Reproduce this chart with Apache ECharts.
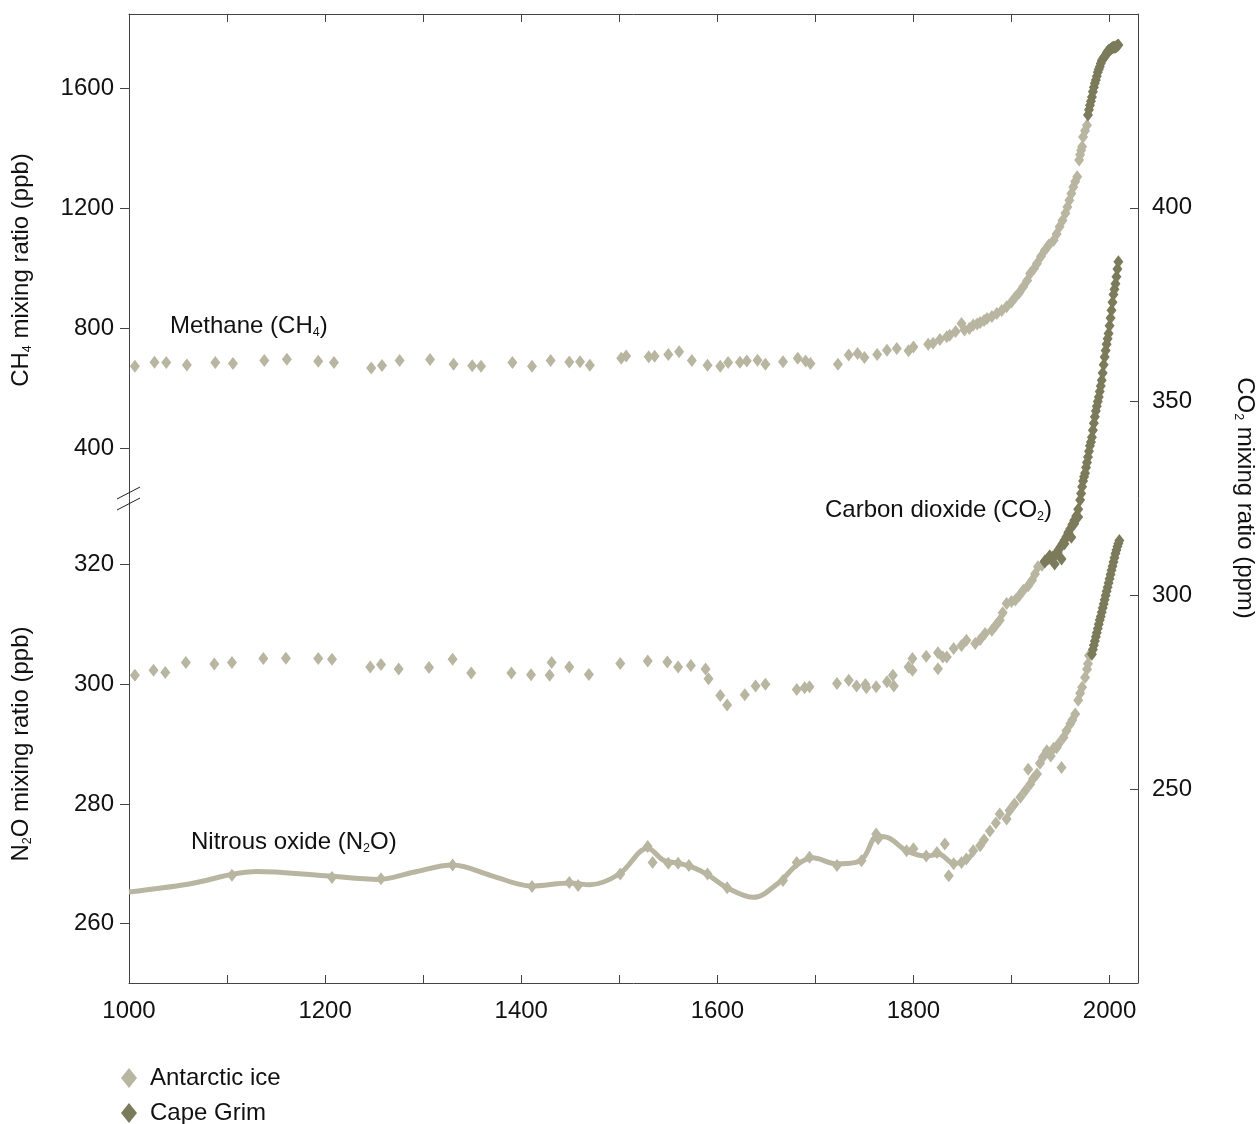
<!DOCTYPE html>
<html>
<head>
<meta charset="utf-8">
<script src="https://cdn.jsdelivr.net/npm/echarts@6/dist/echarts.min.js"></script>
<style>html,body{margin:0;padding:0;background:#fff;}#c{width:1260px;height:1124px;}</style>
</head>
<body>
<div id="c"></div>
<script>
// ---------- data (year, value) ----------
const xLabels = [1000, 1200, 1400, 1600, 1800, 2000];
const ch4Ticks = [400, 800, 1200, 1600];
const n2oTicks = [260, 280, 300, 320];
const co2Ticks = [250, 300, 350, 400];

const ch4Ice = [[1006,674],[1026,687],[1038,686],[1059,678],[1088,686],[1106,683],[1138,693],[1161,697],[1193,690],[1209,686],[1247,668],[1258,676],[1276,693],[1307,696],[1331,680],[1350,675],[1359,674],[1391,686],[1411,674],[1430,693],[1449,688],[1460,689],[1470,677],[1502,700],[1507,708],[1530,705],[1536,707],[1550,713],[1561,722],[1574,693],[1590,677],[1603,674],[1611,686],[1623,687],[1630,691],[1641,694],[1649,680],[1667,689],[1682,700],[1690,691],[1695,683],[1723,680],[1734,711],[1743,716],[1750,703],[1763,713],[1773,727],[1783,733],[1795,725],[1800,738],[1815,747],[1820,750],[1827,763],[1834,772],[1837,777],[1843,790],[1849,816],[1852,795],[1857,800],[1861,811],[1865,815],[1868,820],[1872,826],[1875,833],[1880,840],[1885,850],[1890,860],[1895,872],[1900,888],[1904,905],[1908,920],[1912,939],[1916,960],[1919,983],[1923,1000],[1926,1017],[1930,1040],[1934,1061],[1938,1078],[1943,1094],[1946,1115],[1949,1139],[1952,1160],[1955,1184],[1957,1205],[1959,1228],[1961,1250],[1963,1272],[1965,1290],[1967,1306],[1969,1362],[1970,1380],[1971,1395],[1972,1406],[1973,1439],[1975,1460],[1977,1478]];
const ch4Grim = [[1978,1512],[1979,1530],[1980,1545],[1981,1558],[1982,1572],[1983,1590],[1984,1605],[1985,1618],[1986,1629],[1987,1642],[1988,1655],[1989,1665],[1990,1673],[1991,1684],[1992,1693],[1993,1698],[1994,1703],[1995,1707],[1996,1712],[1997,1718],[1998,1724],[1999,1728],[2000,1729],[2001,1731],[2002,1735],[2003,1737],[2004,1738],[2005,1738],[2006,1739],[2007,1741],[2008,1744],[2009,1746]];

const co2Ice = [[1006,279.4],[1025,280.7],[1037,280.1],[1058,282.7],[1087,282.3],[1105,282.7],[1137,283.7],[1160,283.8],[1193,283.7],[1207,283.5],[1246,281.5],[1257,282.2],[1275,281.0],[1306,281.4],[1330,283.5],[1349,280.0],[1390,280.0],[1410,279.5],[1429,279.4],[1431,282.7],[1449,281.5],[1469,279.6],[1501,282.4],[1529,283.1],[1549,282.8],[1560,281.5],[1573,281.9],[1588,281.0],[1591,278.5],[1603,274.2],[1610,271.7],[1628,274.4],[1639,276.6],[1649,277.1],[1681,275.7],[1689,276.2],[1694,276.4],[1722,277.3],[1734,278.1],[1742,276.6],[1751,277.0],[1752,276.2],[1762,276.4],[1773,277.7],[1779,279.4],[1780,276.6],[1795,281.5],[1799,283.7],[1799,280.7],[1813,284.3],[1825,285.2],[1825,281.1],[1830,284.1],[1834,284.1],[1841,286.3],[1849,287.1],[1854,288.4],[1863,287.6],[1868,288.6],[1873,290.2],[1880,291.0],[1884,292.3],[1888,293.6],[1891,295.5],[1895,297.9],[1900,298.4],[1904,298.8],[1908,300.0],[1912,301.3],[1917,302.5],[1921,303.9],[1924,305.5],[1927,307.4],[1931,307.8]];
const co2Grim = [[1934,308.6],[1936,309.2],[1938,309.5],[1940,309.8],[1942,309.9],[1944,310.3],[1946,310.8],[1948,311.8],[1950,312.5],[1952,313.3],[1954,314.2],[1956,315.1],[1958,316.3],[1960,317.2],[1962,318.3],[1964,319.4],[1966,320.5],[1968,322.2],[1934,308.9],[1939,310.2],[1944,308.1],[1947,311.1],[1951,309.4],[1954,313.3],[1958,315.9],[1961,315.0],[1964,318.5],[1968,320.2],[1970,324.6],[1971,326.3],[1972,328.0],[1973,329.5],[1974,330.6],[1975,331.5],[1976,333.0],[1977,334.3],[1978,335.7],[1979,337.2],[1980,338.6],[1981,339.6],[1982,340.8],[1983,342.6],[1984,344.4],[1985,346.1],[1986,347.6],[1987,348.8],[1988,350.0],[1989,351.2],[1990,352.6],[1991,354.0],[1992,355.5],[1993,357.4],[1994,359.5],[1995,361.5],[1996,363.2],[1997,364.8],[1998,366.2],[1999,367.6],[2000,369.6],[2001,371.6],[2002,373.6],[2003,375.6],[2004,377.6],[2005,379.0],[2006,380.4],[2007,382.2],[2008,384.2],[2009,386.1]];

const n2oIce = [[1105,268.1],[1207,267.7],[1257,267.5],[1330,269.8],[1411,266.2],[1449,266.9],[1458,266.4],[1501,268.3],[1529,272.9],[1534,270.2],[1550,270.1],[1560,270.1],[1571,269.7],[1590,268.3],[1610,266.0],[1667,267.2],[1681,270.2],[1694,271.1],[1722,269.7],[1747,270.5],[1762,275.0],[1764,274.2],[1793,272.2],[1800,272.5],[1813,271.3],[1824,271.9],[1832,273.3],[1836,268.0],[1841,270.0],[1849,270.2],[1854,270.8],[1861,272.2],[1868,273.0],[1872,274.0],[1878,275.5],[1884,276.8],[1888,278.3],[1895,277.5],[1898,278.9],[1903,280.0],[1909,281.1],[1914,282.2],[1917,285.8],[1919,283.3],[1922,284.2],[1926,285.0],[1929,286.8],[1932,287.8],[1936,288.9],[1940,288.0],[1943,289.3],[1946,289.4],[1948,290.0],[1951,286.1],[1953,291.1],[1956,292.2],[1960,293.4],[1962,294.0],[1965,295.0],[1968,297.3],[1970,298.5],[1972,299.5],[1975,301.1],[1977,302.5],[1978,303.4],[1979,304.8]];
const n2oGrim = [[1982,305.0],[1983,305.8],[1984,306.5],[1985,307.2],[1986,307.9],[1987,308.6],[1988,309.3],[1989,310.0],[1990,310.7],[1991,311.3],[1992,312.0],[1993,312.7],[1994,313.4],[1995,314.1],[1996,314.8],[1997,315.5],[1998,316.2],[1999,316.9],[2000,317.6],[2001,318.3],[2002,319.0],[2003,319.7],[2004,320.4],[2005,321.1],[2006,321.8],[2007,322.4],[2008,323.0],[2009,323.5],[2010,324.0]];
const n2oFit = [[1000,265.3],[1060,266.6],[1130,268.7],[1200,268.0],[1255,267.4],[1290,268.6],[1330,269.8],[1370,268.0],[1410,266.3],[1450,266.8],[1470,266.5],[1500,268.3],[1529,272.6],[1545,270.6],[1560,270.1],[1575,269.4],[1590,268.2],[1610,266.0],[1637,264.4],[1663,266.9],[1681,269.8],[1697,271.0],[1722,270.0],[1740,270.2],[1750,271.2],[1763,274.6],[1775,274.3],[1793,272.2],[1813,271.3],[1826,271.6],[1841,270.1],[1849,270.2],[1860,271.6]];

// ---------- styling ----------
const FONT = "'Liberation Sans', Arial, Helvetica, sans-serif";
const ICE = '#b8b5a1';
const GRIM = '#7b7b5b';
const AX = '#444';
const TXT = '#111';
const FS = 24;
const DIA = [10, 13];

const chart = echarts.init(document.getElementById('c'), null, {renderer: 'canvas'});

const rich = {
  n: {fontSize: FS, fontFamily: FONT, fill: TXT, lineHeight: 27},
  s: {fontSize: 12.5, fontFamily: FONT, fill: TXT, lineHeight: 15, verticalAlign: 'bottom'}
};
function label(x, y, text, rot) {
  return {type: 'text', x: x, y: y, rotation: rot || 0, z: 100,
    style: {text: text, rich: rich, align: rot ? 'center' : 'left', verticalAlign: 'middle', fontFamily: FONT, fontSize: FS, fill: TXT}};
}

function scatter(name, data, y, color, z) {
  return {type: 'scatter', name: name, data: data, xAxisIndex: 0, yAxisIndex: y,
    symbol: 'diamond', symbolSize: DIA, itemStyle: {color: color, opacity: 1}, z: z, silent: true};
}
const plain = v => String(v);
function legendRow(name, top) {
  return {orient: 'vertical', left: 121, top: top, padding: 0, itemWidth: 16, itemHeight: 20,
    icon: 'diamond', selectedMode: false, data: [name],
    textStyle: {fontSize: FS, color: TXT, fontFamily: FONT, lineHeight: 20, padding: [0, 0, 0, 8]}};
}

const option = {
  animation: false,
  backgroundColor: '#fff',
  textStyle: {fontFamily: FONT},
  grid: {left: 129, right: 122, top: 14, bottom: 141, containLabel: false},
  legend: [legendRow('Antarctic ice', 1066), legendRow('Cape Grim', 1101)],
  xAxis: [
    {type: 'value', min: 1000, max: 2029, interval: 100, position: 'bottom',
     axisLine: {show: true, onZero: false, lineStyle: {color: AX, width: 1}},
     axisTick: {show: true, inside: true, length: 8, lineStyle: {color: AX}},
     axisLabel: {fontSize: FS, color: TXT, margin: 16, fontFamily: FONT,
       formatter: v => (xLabels.indexOf(v) >= 0 ? String(v) : '')},
     splitLine: {show: false}},
    {type: 'value', min: 1000, max: 2029, interval: 100, position: 'top',
     axisLine: {show: true, onZero: false, lineStyle: {color: AX, width: 1}},
     axisTick: {show: true, inside: true, length: 8, lineStyle: {color: AX}},
     axisLabel: {show: false}, splitLine: {show: false}}
  ],
  yAxis: [
    {type: 'value', min: -1385, max: 1849.4, position: 'left',
     axisLine: {show: true, onZero: false, lineStyle: {color: AX, width: 1}},
     axisTick: {show: true, length: 9, customValues: ch4Ticks, lineStyle: {color: AX}},
     axisLabel: {customValues: ch4Ticks, formatter: plain, fontSize: FS, color: TXT, margin: 15, fontFamily: FONT},
     splitLine: {show: false}},
    {type: 'value', min: 250.1, max: 411.9, position: 'left',
     axisLine: {show: false, onZero: false},
     axisTick: {show: true, length: 9, customValues: n2oTicks, lineStyle: {color: AX}},
     axisLabel: {customValues: n2oTicks, formatter: plain, fontSize: FS, color: TXT, margin: 15, fontFamily: FONT},
     splitLine: {show: false}},
    {type: 'value', min: 200, max: 450, position: 'right',
     axisLine: {show: true, onZero: false, lineStyle: {color: AX, width: 1}},
     axisTick: {show: true, inside: true, length: 8, customValues: co2Ticks, lineStyle: {color: AX}},
     axisLabel: {customValues: co2Ticks, formatter: plain, fontSize: FS, color: TXT, margin: 14, fontFamily: FONT},
     splitLine: {show: false}}
  ],
  series: [
    {type: 'line', name: 'N2O fit', data: n2oFit, xAxisIndex: 0, yAxisIndex: 1, smooth: 0.35,
     showSymbol: false, symbol: 'none', lineStyle: {color: ICE, width: 5}, z: 2, silent: true},
    scatter('Antarctic ice', ch4Ice, 0, ICE, 3),
    scatter('Antarctic ice', co2Ice, 2, ICE, 3),
    scatter('Antarctic ice', n2oIce, 1, ICE, 3),
    scatter('Cape Grim', ch4Grim, 0, GRIM, 4),
    scatter('Cape Grim', co2Grim, 2, GRIM, 4),
    scatter('Cape Grim', n2oGrim, 1, GRIM, 4)
  ],
  graphic: [
    label(170, 326, '{n|Methane (CH}{s|4}{n|)}'),
    label(825, 510, '{n|Carbon dioxide (CO}{s|2}{n|)}'),
    label(191, 842, '{n|Nitrous oxide (N}{s|2}{n|O)}'),
    label(21, 270, '{n|CH}{s|4}{n| mixing ratio (ppb)}', Math.PI / 2),
    label(21, 744, '{n|N}{s|2}{n|O mixing ratio (ppb)}', Math.PI / 2),
    label(1245, 498, '{n|CO}{s|2}{n| mixing ratio (ppm)}', -Math.PI / 2),
    {type: 'line', z: 100, shape: {x1: 117, y1: 499, x2: 140, y2: 487}, style: {stroke: '#222', lineWidth: 1}},
    {type: 'line', z: 100, shape: {x1: 117, y1: 510, x2: 140, y2: 498}, style: {stroke: '#222', lineWidth: 1}}
  ]
};
chart.setOption(option);
</script>
</body>
</html>
